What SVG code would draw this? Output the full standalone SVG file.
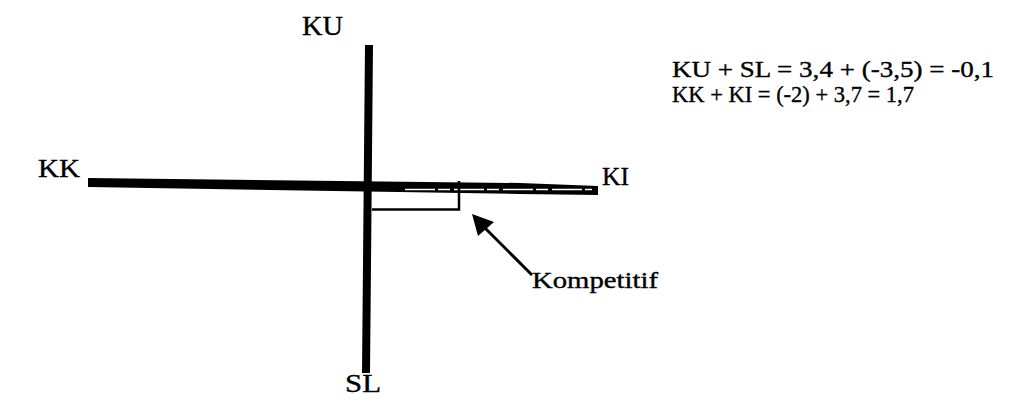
<svg xmlns="http://www.w3.org/2000/svg" width="1027" height="405" viewBox="0 0 1027 405">
<style>
text{font-family:"Liberation Serif","Times New Roman",serif;fill:#000;stroke:#000;stroke-width:0.35}
.ax{fill:#000;stroke:none}
.thin{stroke:#000;stroke-width:2.5;fill:none}
</style>
<rect width="1027" height="405" fill="#fff"/>
<g id="connectors">
<polygon class="ax" points="365,45 373,45 370,373 362,373"/>
<polygon class="ax" points="88,178 520,183 598,186 598,195 520,194 88,187"/>
<line x1="405" y1="189.5" x2="592" y2="189.5" stroke="#fff" stroke-width="1.3" stroke-dasharray="30,3,12,4"/>
<polyline class="thin" points="372,209.5 459,209.5 459,181"/>
<line x1="532" y1="275" x2="480" y2="223" stroke="#000" stroke-width="3"/>
<polygon class="ax" points="472,214 494,222 478,236"/>
</g>
<g id="node-KU"><text x="302" y="35" font-size="27" textLength="41" lengthAdjust="spacingAndGlyphs">KU</text></g>
<g id="node-SL"><text x="345" y="392" font-size="25" textLength="36" lengthAdjust="spacingAndGlyphs">SL</text></g>
<g id="node-KK"><text x="38" y="177" font-size="25" textLength="42" lengthAdjust="spacingAndGlyphs">KK</text></g>
<g id="node-KI"><text x="602" y="185" font-size="25" textLength="27" lengthAdjust="spacingAndGlyphs">KI</text></g>
<g id="node-kompetitif"><text x="532" y="288" font-size="23" textLength="126" lengthAdjust="spacingAndGlyphs">Kompetitif</text></g>
<g id="node-equations">
<text x="672" y="77" font-size="23" textLength="322" lengthAdjust="spacingAndGlyphs">KU + SL = 3,4 + (-3,5) = -0,1</text>
<text x="672" y="102" font-size="23" textLength="242" lengthAdjust="spacingAndGlyphs">KK + KI = (-2) + 3,7 = 1,7</text>
</g>
</svg>
